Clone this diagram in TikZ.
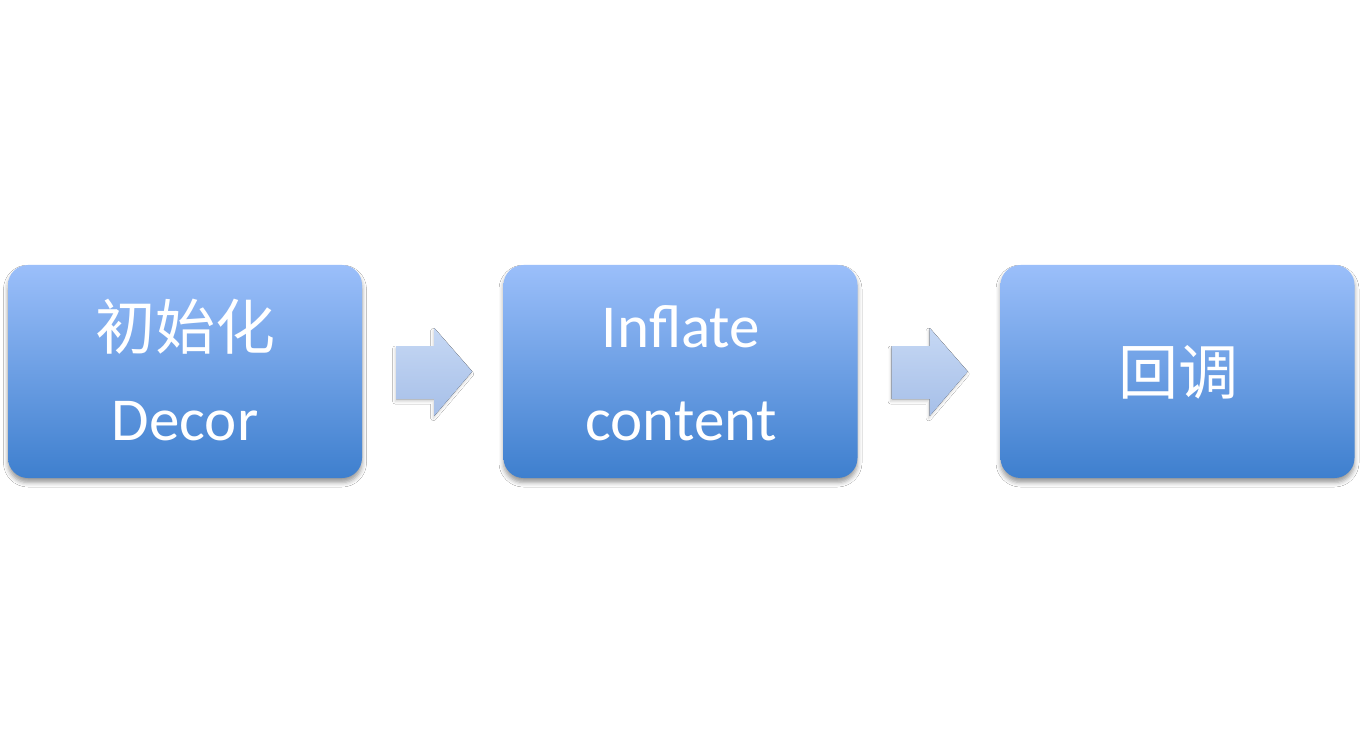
\documentclass[tikz,border=0pt]{standalone}
\usepackage{fontspec}
\setmainfont{Carlito}
\newfontfamily\cjk{Noto Sans CJK SC}
\usetikzlibrary{calc,shadows.blur}
\definecolor{boxtop}{HTML}{9BBFFA}
\definecolor{boxbot}{HTML}{3E7FCE}
\definecolor{arrtop}{HTML}{C6D8F4}
\definecolor{arrbot}{HTML}{A6BFE8}
\tikzset{
  stepbox/.style={rectangle, rounded corners=20pt, minimum width=354pt, minimum height=213pt,
    top color=boxtop, bottom color=boxbot, draw=none,
    blur shadow={shadow xshift=0pt, shadow yshift=-4.5pt, shadow blur radius=4.5pt, shadow opacity=40}},
  blockarrow/.style={top color=arrtop, bottom color=arrbot, draw=none,
    blur shadow={shadow xshift=-1pt, shadow yshift=-2.5pt, shadow blur radius=2.5pt, shadow opacity=18}},
  lat/.style={text=white, anchor=base, inner sep=0pt, font=\fontsize{61}{61}\selectfont},
  han/.style={text=white, anchor=base, inner sep=0pt, font=\cjk\fontsize{60}{60}\selectfont},
}
\begin{document}
\begin{tikzpicture}[x=1pt,y=-1pt]
\useasboundingbox (0,0) rectangle (1362,743);
\fill[white] (0,0) rectangle (1362,743);
\node[stepbox] (b1) at (185,371.5) {};
\node[stepbox] (b2) at (680.5,371.5) {};
\node[stepbox] (b3) at (1177.5,371.5) {};
\node[han] (t1a) at (185,349) {初始化};
\node[lat] (t1b) at (185,440) {Decor};
\node[lat] (t2a) at (681,347) {Inflate};
\node[lat] (t2b) at (681,440) {content};
\node[han] (t3) at (1178,394) {回调};
\fill[blockarrow] ($(b1.east)+(34,-25.5)$) -- ++(38,0) -- ++(0,-18) -- ($(b1.east)+(110,0)$) -- ($(b1.east)+(72,44.5)$) -- ++(0,-17) -- ++(-38,0) -- cycle;
\fill[blockarrow] ($(b2.east)+(34,-25.5)$) -- ++(38,0) -- ++(0,-18) -- ($(b2.east)+(110,0)$) -- ($(b2.east)+(72,44.5)$) -- ++(0,-17) -- ++(-38,0) -- cycle;
\end{tikzpicture}
\end{document}
